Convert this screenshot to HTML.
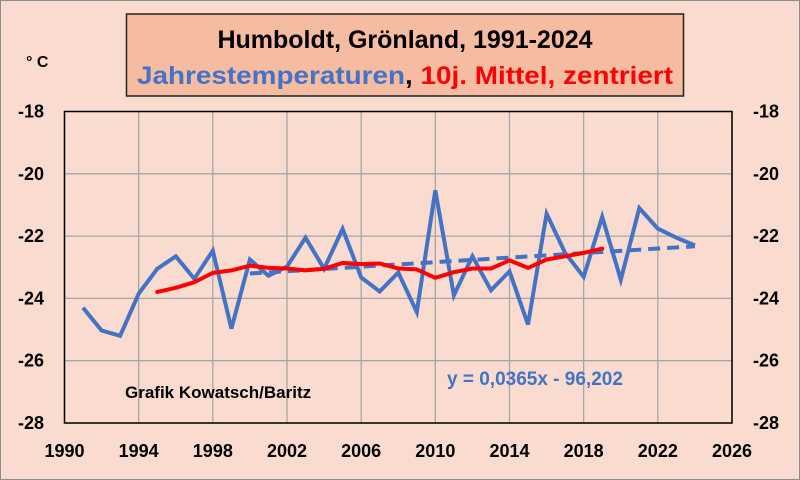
<!DOCTYPE html>
<html><head><meta charset="utf-8"><style>
html,body{margin:0;padding:0;background:#F9DCCF;}
svg{display:block;font-family:"Liberation Sans",sans-serif;}
</style></head><body>
<svg id="chart" width="800" height="480" xmlns="http://www.w3.org/2000/svg">
<rect x="0.5" y="0.5" width="799" height="479" fill="#F9DCCF" stroke="#8c8c8c"/>
<g id="grid"></g>
<rect x="64.5" y="111.5" width="667.5" height="311.5" fill="none" stroke="#000" stroke-width="1.5"/>
<g id="ylabels"></g>
<g id="xlabels"></g>
<g id="series"></g>
<rect x="126.5" y="14" width="557" height="82" fill="#F6BCA2" stroke="#222" stroke-width="1.5"/>
<text x="405" y="48" text-anchor="middle" font-size="25" font-weight="bold" fill="#000">Humboldt, Grönland, 1991-2024</text>
<text x="405" y="84" text-anchor="middle" font-size="25" font-weight="bold" textLength="536" lengthAdjust="spacingAndGlyphs"><tspan fill="#4472C4">Jahrestemperaturen</tspan><tspan fill="#000">, </tspan><tspan fill="#FF0000">10j. Mittel, zentriert</tspan></text>
<text x="26" y="67" font-size="16" font-weight="bold" fill="#000">° C</text>
<text x="125" y="398" font-size="17" font-weight="bold" fill="#000">Grafik Kowatsch/Baritz</text>
<text x="447" y="385" font-size="19" font-weight="bold" fill="#4472C4">y = 0,0365x - 96,202</text>
</svg>
<script>
const years = [1991,1992,1993,1994,1995,1996,1997,1998,1999,2000,2001,2002,2003,2004,2005,2006,2007,2008,2009,2010,2011,2012,2013,2014,2015,2016,2017,2018,2019,2020,2021,2022,2023,2024];
const annualTemps = [-24.3,-25.03,-25.2,-23.85,-23.05,-22.65,-23.37,-22.47,-24.97,-22.75,-23.27,-22.98,-22.05,-23.05,-21.77,-23.33,-23.78,-23.17,-24.44,-20.53,-23.9,-22.65,-23.74,-23.13,-24.84,-21.28,-22.54,-23.31,-21.38,-23.4,-21.1,-21.76,-22.05,-22.3];
const meanYears = [1995,1996,1997,1998,1999,2000,2001,2002,2003,2004,2005,2006,2007,2008,2009,2010,2011,2012,2013,2014,2015,2016,2017,2018,2019];
const meanTemps = [-23.79,-23.66,-23.48,-23.18,-23.1,-22.95,-23.02,-23.04,-23.1,-23.05,-22.86,-22.9,-22.88,-23.04,-23.07,-23.34,-23.16,-23.04,-23.04,-22.78,-23.02,-22.75,-22.65,-22.54,-22.4];
const trendYears = [2000,2024];
const trendSlope = 0.0365;
const trendIntercept = -96.202;
const xTicks = [1990,1994,1998,2002,2006,2010,2014,2018,2022,2026];
const yTicks = [-18,-20,-22,-24,-26,-28];

const NS="http://www.w3.org/2000/svg";
const X0=64.5,X1=732,Y0=111.5,Y1=423;
const xScale=v=>X0+(v-1990)/(2026-1990)*(X1-X0);
const yScale=v=>Y0+(-18-v)/((-18)-(-28))*(Y1-Y0);
function mk(tag,attrs,parent){const e=document.createElementNS(NS,tag);for(const k in attrs)e.setAttribute(k,attrs[k]);parent.appendChild(e);return e;}
const grid=document.getElementById('grid'),yl=document.getElementById('ylabels'),xl=document.getElementById('xlabels'),ser=document.getElementById('series');
xTicks.forEach(t=>{
  const x=xScale(t);
  const l=mk('line',{x1:x,x2:x,y1:Y0,y2:Y1,stroke:'#A6A6A6','stroke-width':1.3},grid);
  
  
  const tx=mk('text',{x:x,y:457,'text-anchor':'middle','font-size':18,'font-weight':'bold',fill:'#000'},xl);
  tx.textContent=t;
  
  
});
yTicks.forEach(t=>{
  const y=yScale(t);
  const l=mk('line',{x1:X0,x2:X1,y1:y,y2:y,stroke:'#A6A6A6','stroke-width':1.3},grid);
  
  
  const a=mk('text',{x:44,y:y+6,'text-anchor':'end','font-size':18,'font-weight':'bold',fill:'#000'},yl);
  a.textContent=t;
  
  
  const b=mk('text',{x:779,y:y+6,'text-anchor':'end','font-size':18,'font-weight':'bold',fill:'#000'},yl);
  b.textContent=t;
  
  
});
const pts=(xs,ys)=>xs.map((x,i)=>xScale(x).toFixed(1)+','+yScale(ys[i]).toFixed(1)).join(' ');
const trendVals=trendYears.map(y=>trendSlope*y+trendIntercept);
const tr=mk('polyline',{points:pts(trendYears,trendVals),fill:'none',stroke:'#4472C4','stroke-width':4,'stroke-dasharray':'12,7'},ser);


const an=mk('polyline',{points:pts(years,annualTemps),fill:'none',stroke:'#4472C4','stroke-width':4,'stroke-linejoin':'miter'},ser);


const mn=mk('polyline',{points:pts(meanYears,meanTemps),fill:'none',stroke:'#FF0000','stroke-width':4,'stroke-linejoin':'round','stroke-linecap':'round'},ser);


</script>
</body></html>
